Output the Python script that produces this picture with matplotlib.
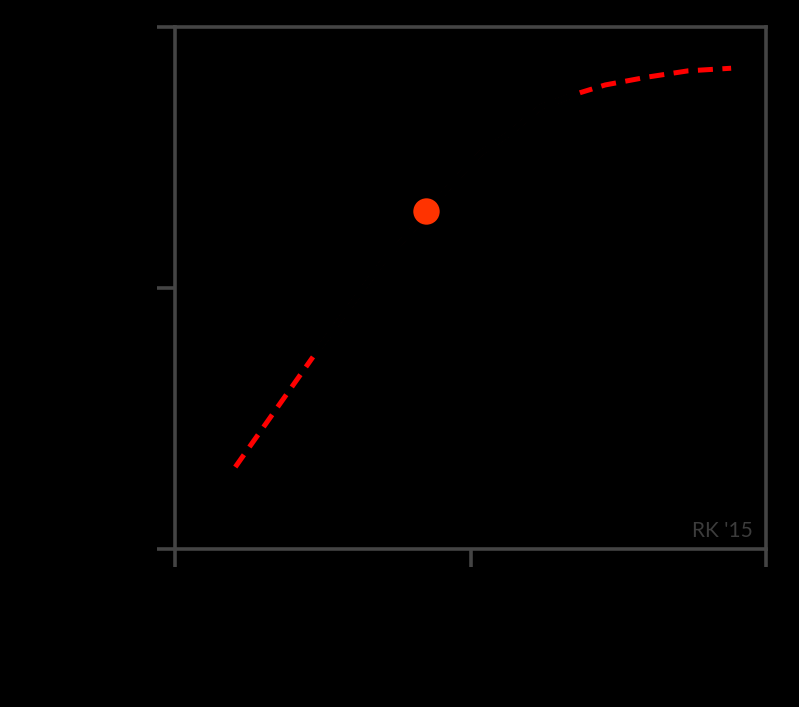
import matplotlib
matplotlib.use("Agg")
import matplotlib.pyplot as plt

# curve (axes run 0..1 on both sides)
x_low = [0.102, 0.2335]
y_low = [0.157, 0.368]

x_mid = [0.2335, 0.279, 0.308, 0.350, 0.406, 0.469, 0.518, 0.567, 0.619, 0.685]
y_mid = [0.368, 0.439, 0.483, 0.548, 0.617, 0.701, 0.759, 0.797, 0.847, 0.874]

x_high = [0.685, 0.728, 0.799, 0.868, 0.941]
y_high = [0.874, 0.889, 0.904, 0.916, 0.921]

dot_x = [0.425]
dot_y = [0.648]

xticks = [0, 0.5, 1]
yticks = [0, 0.5, 1]

grey = "#444444"

fig = plt.figure(figsize=(7.99, 7.07), dpi=100, facecolor="black")
ax = fig.add_axes([175 / 799, 1 - 549 / 707, 591 / 799, 522 / 707])
ax.set_facecolor("black")

# whole curve dashed red, then the middle blacked out
ax.plot(x_low + x_mid[1:] + x_high[1:], y_low + y_mid[1:] + y_high[1:],
        color="red", lw=3.6, ls=(0, (3.0, 1.9)), zorder=2)
ax.plot(x_mid, y_mid, color="black", lw=4.6, zorder=3, solid_capstyle="butt")
ax.plot(dot_x, dot_y, "o", color="#ff3300", ms=19, mec="none", zorder=4)

ax.set_xlim(0, 1)
ax.set_ylim(0, 1)
ax.set_xticks(xticks)
ax.set_yticks(yticks)
ax.tick_params(direction="out", length=13, width=2.6, color=grey,
               labelcolor="black")
for s in ax.spines.values():
    s.set_color(grey)
    s.set_linewidth(2.6)

ax.text(0.977, 0.015, "RK '15", transform=ax.transAxes, ha="right", va="bottom",
        color="#3c3c3c", fontsize=15, family="Lato")

fig.savefig("out.png", dpi=100, facecolor="black")
